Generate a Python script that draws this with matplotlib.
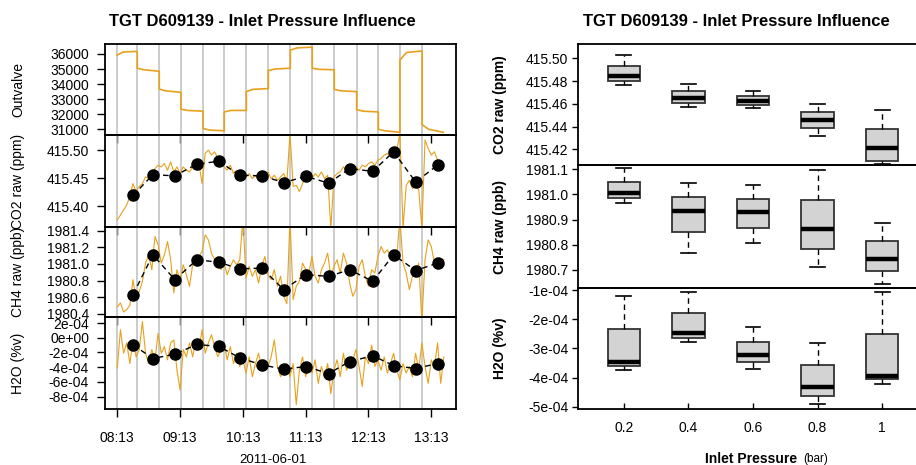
import numpy as np
import matplotlib
matplotlib.use('Agg')
import matplotlib.pyplot as plt
from matplotlib.ticker import FuncFormatter

plt.rcParams['font.family'] = ['Liberation Sans', 'DejaVu Sans']

W, H = 916, 465

# minutes after 08:13 at which the inlet pressure was switched
switch_min = [0, 19.1, 40.1, 60.8, 81.9, 102.2, 123.3, 144.3, 165.3, 186.3,
              207.3, 228.7, 249.4, 270.0, 291.3]
end_min = 311.5

# outvalve level per pressure step (start / early / end of step)
outvalve_start = [35930, 35050, 33670, 32330, 31050, 32150, 33500, 34900, 36250,
                  35050, 33650, 32300, 31000, 35600, 31300]
outvalve_mid = [36130, 34950, 33550, 32250, 30950, 32250, 33650, 35000, 36400,
                34980, 33550, 32200, 30900, 36100, 31000]
outvalve_end = [36170, 34850, 33450, 32200, 30900, 32250, 33700, 35050, 36450,
                34950, 33500, 32150, 30800, 36200, 30800]

# raw traces, one value every ~3 minutes
co2_raw = [415.375, 415.384, 415.393, 415.402, 415.417, 415.440, 415.426, 415.435, 415.440, 415.452,
           415.449, 415.461, 415.467, 415.473, 415.470, 415.476, 415.464, 415.479, 415.461, 415.470,
           415.458, 415.470, 415.464, 415.461, 415.470, 415.473, 415.476, 415.440, 415.494, 415.500,
           415.491, 415.497, 415.485, 415.479, 415.470, 415.464, 415.473, 415.458, 415.464, 415.455,
           415.461, 415.452, 415.458, 415.449, 415.455, 415.446, 415.458, 415.452, 415.461, 415.449,
           415.455, 415.446, 415.452, 415.458, 415.443, 415.530, 415.435, 415.437, 415.426, 415.440,
           415.452, 415.458, 415.449, 415.458, 415.452, 415.461, 415.449, 415.455, 415.360, 415.452,
           415.458, 415.461, 415.470, 415.464, 415.473, 415.467, 415.470, 415.464, 415.473, 415.470,
           415.476, 415.479, 415.473, 415.482, 415.485, 415.491, 415.494, 415.488, 415.497, 415.500,
           415.530, 415.360, 415.437, 415.446, 415.431, 415.437, 415.429, 415.360, 415.518, 415.503,
           415.491, 415.497, 415.482, 415.479, 415.476]
ch4_raw = [1980.48, 1980.53, 1980.42, 1980.45, 1980.50, 1980.81, 1980.57, 1980.67, 1980.79, 1981.01,
           1981.11, 1980.93, 1981.33, 1981.23, 1981.01, 1981.11, 1981.27, 1981.05, 1980.65, 1980.93,
           1980.79, 1980.99, 1980.87, 1980.73, 1980.99, 1981.11, 1981.09, 1981.15, 1981.35, 1981.29,
           1981.13, 1981.05, 1981.09, 1980.93, 1981.01, 1980.87, 1980.97, 1981.05, 1980.99, 1981.05,
           1981.55, 1980.83, 1980.97, 1980.85, 1980.93, 1980.77, 1980.97, 1981.09, 1980.87, 1980.81,
           1980.93, 1980.73, 1980.85, 1980.61, 1980.52, 1981.55, 1980.57, 1980.73, 1980.79, 1981.01,
           1980.93, 1980.89, 1981.09, 1980.85, 1980.77, 1980.93, 1981.01, 1981.13, 1980.85, 1980.97,
           1981.05, 1980.89, 1981.13, 1981.01, 1980.77, 1980.61, 1980.69, 1980.97, 1981.05, 1980.85,
           1980.73, 1980.93, 1980.89, 1981.09, 1981.21, 1981.13, 1981.17, 1981.09, 1981.15, 1981.09,
           1981.55, 1981.01, 1980.89, 1980.69, 1980.85, 1980.89, 1981.01, 1980.30, 1981.05, 1981.29,
           1981.21, 1981.01, 1980.93, 1981.01, 1981.05]
# H2O in units of 1e-4 %v
h2o_raw = [-4.1, 1.1, -2.1, -0.7, -3.5, -0.3, -2.6, -1.6, 2.2, -2.1,
           -3.5, -1.6, -3.0, 0.6, -2.1, -1.2, -3.0, -0.7, -0.3, -4.4,
           -7.1, -1.6, -2.6, -0.7, -2.6, -0.3, -1.6, 1.1, -2.1, -0.7,
           0.4, -1.2, -2.6, -1.6, -0.7, -3.0, -1.2, -3.5, -2.1, -3.9,
           -3.0, -4.8, -2.6, -5.3, -3.5, -2.1, -4.4, -3.0, -3.9, -2.6,
           -0.3, -3.9, -5.3, -4.4, -3.5, -5.3, -3.5, -9.1, -4.4, -2.6,
           -5.3, -3.5, -4.8, -3.0, -6.2, -3.9, -5.3, -3.5, -7.6, -4.4,
           -3.0, -5.3, -2.1, -4.4, -3.5, -3.0, -1.6, -3.9, -6.6, -2.6,
           -3.5, -1.0, -3.9, -3.0, -4.4, -2.6, -4.8, -3.5, -2.1, -4.4,
           -5.7, -3.5, -4.8, -3.9, -5.3, -2.1, -4.4, -0.7, -3.9, -6.2,
           -3.0, -3.9, -0.7, -6.2, -2.6]

# step averages
point_min = [15, 34, 55, 76, 97, 117, 138, 159, 180, 202, 222, 244, 264, 285, 306]
co2_pts = [415.419, 415.456, 415.454, 415.475, 415.480, 415.455, 415.454, 415.442,
           415.453, 415.441, 415.467, 415.462, 415.497, 415.443, 415.473]
ch4_pts = [1980.63, 1981.11, 1980.81, 1981.05, 1981.02, 1980.94, 1980.95, 1980.69,
           1980.87, 1980.85, 1980.93, 1980.79, 1981.11, 1980.92, 1981.01]
h2o_pts = [-0.95, -2.82, -2.23, -0.91, -1.18, -2.73, -3.68, -4.27, -3.91, -4.86,
           -3.23, -2.45, -3.77, -4.18, -3.50]

# boxplots by inlet pressure
pressure_labels = ['0.2', '0.4', '0.6', '0.8', '1']
co2_lo = [415.4766, 415.4572, 415.4566, 415.4317, 415.4075]
co2_q1 = [415.4800, 415.4610, 415.4593, 415.4388, 415.4097]
co2_med = [415.4848, 415.4654, 415.4625, 415.4458, 415.4209]
co2_q3 = [415.4936, 415.4710, 415.4666, 415.4531, 415.4376]
co2_hi = [415.5030, 415.4774, 415.4713, 415.4601, 415.4543]
ch4_lo = [1980.966, 1980.767, 1980.805, 1980.711, 1980.644]
ch4_q1 = [1980.986, 1980.849, 1980.865, 1980.783, 1980.695]
ch4_med = [1981.007, 1980.935, 1980.932, 1980.861, 1980.743]
ch4_q3 = [1981.050, 1980.991, 1980.982, 1980.977, 1980.814]
ch4_hi = [1981.104, 1981.045, 1981.037, 1981.097, 1980.887]
h2o_lo = [-3.75, -2.77, -3.70, -4.91, -4.21]
h2o_q1 = [-3.61, -2.65, -3.47, -4.62, -4.06]
h2o_med = [-3.47, -2.49, -3.24, -4.31, -3.95]
h2o_q3 = [-2.35, -1.78, -2.77, -3.57, -2.51]
h2o_hi = [-1.21, -1.06, -2.28, -2.81, -1.08]

ORANGE = '#E8A11C'
GREY = '#BEBEBE'


def pos(x0, x1, y0, y1):
    return [x0 / W, 1 - y1 / H, (x1 - x0) / W, (y1 - y0) / H]


def style(ax, fmt):
    for s in ax.spines.values():
        s.set_linewidth(1.3)
    ax.set_facecolor('none')
    ax.yaxis.set_major_formatter(FuncFormatter(fmt))


fig = plt.figure(figsize=(W / 100, H / 100), dpi=100)

fig.text(262 / W, 1 - 21 / H, 'TGT D609139 - Inlet Pressure Influence',
         ha='center', va='center', fontsize=12, fontweight='bold')
fig.text(736 / W, 1 - 21 / H, 'TGT D609139 - Inlet Pressure Influence',
         ha='center', va='center', fontsize=12, fontweight='bold')

# ---- left: time series ----
rows = [(44, 135), (135, 227), (227, 317), (317, 409)]
left_axes = [fig.add_axes(pos(105, 456, y0, y1)) for y0, y1 in rows]
t_raw = np.linspace(0, 312, len(co2_raw))

ov_t, ov_v = [], []
for k in range(len(switch_min)):
    ts = switch_min[k]
    te = switch_min[k + 1] if k + 1 < len(switch_min) else end_min
    ov_t += [ts, ts + 0.3 * (te - ts), te]
    ov_v += [outvalve_start[k], outvalve_mid[k], outvalve_end[k]]

ax1, ax2, ax3, ax4 = left_axes
ax1.plot(ov_t, ov_v, color=ORANGE, lw=1.2, zorder=2)
ax2.plot(t_raw, co2_raw, color=ORANGE, lw=0.8, zorder=2)
ax3.plot(t_raw, ch4_raw, color=ORANGE, lw=0.8, zorder=2)
ax4.plot(t_raw, np.array(h2o_raw) * 1e-4, color=ORANGE, lw=0.8, zorder=2)

for ax, vals, sc in [(ax2, co2_pts, 1), (ax3, ch4_pts, 1), (ax4, h2o_pts, 1e-4)]:
    ax.plot(point_min, np.array(vals) * sc, color='black', lw=1, ls=(0, (4, 3)),
            marker='o', markersize=8, zorder=3)

ax1.set_ylim(30620, 36660)
ax1.set_yticks(range(31000, 36001, 1000))
ax2.set_ylim(415.3625, 415.527)
ax2.set_yticks([415.40, 415.45, 415.50])
ax3.set_ylim(1980.36, 1981.445)
ax3.set_yticks(np.round(np.arange(1980.4, 1981.41, 0.2), 1))
ax4.set_ylim(-9.68e-4, 2.82e-4)
ax4.set_yticks(np.arange(-8, 3, 2) * 1e-4)

fmts = [lambda v, p: f'{v:.0f}', lambda v, p: f'{v:.2f}',
        lambda v, p: f'{v:.1f}', lambda v, p: format(v, '.0e')]
ylabels = ['Outvalve', 'CO2 raw (ppm)', 'CH4 raw (ppb)', 'H2O (%v)']
hours = [f'{8 + i:02d}:13' for i in range(6)]
for ax, f, lab, (y0, y1) in zip(left_axes, fmts, ylabels, rows):
    style(ax, f)
    ax.set_xlim(-11.75, 323.6)
    for t in switch_min:
        ax.axvline(t, color=GREY, lw=1.1, zorder=1)
    ax.set_xticks(np.arange(0, 301, 60))
    ax.set_xticklabels(hours)
    ax.tick_params(direction='out', length=5.5, width=1, pad=6, labelsize=10)
    ax.tick_params(axis='x', labelbottom=(ax is ax4), pad=10)
    fig.text(18 / W, 1 - (y0 + y1) / 2 / H, lab, rotation=90, ha='center',
             va='center', fontsize=10)

fig.text(273 / W, 1 - 460 / H, '2011-06-01', ha='center', va='center', fontsize=9.5)

# ---- right: boxplots ----
rrows = [(44, 165), (165, 288), (288, 409)]
right_axes = [fig.add_axes(pos(578, 928, y0, y1)) for y0, y1 in rrows]
box_sets = [(co2_lo, co2_q1, co2_med, co2_q3, co2_hi, 1),
            (ch4_lo, ch4_q1, ch4_med, ch4_q3, ch4_hi, 1),
            (h2o_lo, h2o_q1, h2o_med, h2o_q3, h2o_hi, 1e-4)]
rlabels = ['CO2 raw (ppm)', 'CH4 raw (ppb)', 'H2O (%v)']
rlims = [(415.4062, 415.5126), (1980.628, 1981.117), (-5.08e-4, -0.93e-4)]
rticks = [np.arange(415.42, 415.501, 0.02), np.arange(1980.7, 1981.11, 0.1),
          np.arange(-5, 0, 1) * 1e-4]
rfmts = [lambda v, p: f'{v:.2f}', lambda v, p: f'{v:.1f}', lambda v, p: format(v, '.0e')]
positions = np.arange(1, len(pressure_labels) + 1)

for i, ax in enumerate(right_axes):
    lo, q1, med, q3, hi, sc = box_sets[i]
    stats = [dict(whislo=lo[j] * sc, q1=q1[j] * sc, med=med[j] * sc, q3=q3[j] * sc,
                  whishi=hi[j] * sc, fliers=[]) for j in range(len(lo))]
    ax.bxp(stats, positions=positions, widths=0.5, patch_artist=True, showfliers=False,
           capwidths=0.23, manage_ticks=False,
           boxprops=dict(facecolor='#D3D3D3', edgecolor='#333333', linewidth=1.3),
           medianprops=dict(color='black', linewidth=3.2, solid_capstyle='butt'),
           whiskerprops=dict(color='black', linewidth=1, linestyle=(0, (4, 3))),
           capprops=dict(color='black', linewidth=1.2))
    style(ax, rfmts[i])
    ax.set_xlim(0.29, 5.71)
    ax.set_ylim(*rlims[i])
    ax.set_yticks(rticks[i])
    ax.set_xticks(positions)
    ax.set_xticklabels(pressure_labels)
    ax.spines['right'].set_visible(False)
    ax.tick_params(direction='out', length=4, width=1, pad=3, labelsize=10)
    ax.tick_params(axis='x', direction='in', bottom=(i == 2), labelbottom=(i == 2), pad=9)
    y0, y1 = rrows[i]
    fig.text(500 / W, 1 - (y0 + y1) / 2 / H, rlabels[i], rotation=90, ha='center',
             va='center', fontsize=10, fontweight='bold')

fig.text(797 / W, 1 - 459 / H, 'Inlet Pressure', ha='right', va='center',
         fontsize=10, fontweight='bold')
fig.text(803 / W, 1 - 459 / H, '(bar)', ha='left', va='center', fontsize=8.5)

fig.savefig('out.png', dpi=100)
